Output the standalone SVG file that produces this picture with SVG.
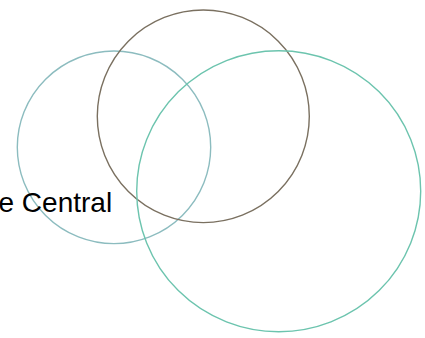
<svg xmlns="http://www.w3.org/2000/svg" width="425" height="338" viewBox="0 0 425 338">
<style>
.c{fill:none;stroke-width:1.4}
.t{font-family:"Liberation Sans",Arial,sans-serif;font-size:28px;fill:#000}
</style>
<rect width="425" height="338" fill="#fff"/>
<g id="circle-left"><ellipse class="c" cx="114" cy="147.3" rx="96.7" ry="96.3" stroke="#8cbcbf"/></g>
<g id="circle-top"><ellipse class="c" cx="203.3" cy="116.3" rx="106" ry="106.3" stroke="#7a7060"/></g>
<g id="circle-right"><ellipse class="c" cx="278.7" cy="191.2" rx="142" ry="140.5" stroke="#6cc4ae"/></g>
<g id="label"><text class="t" x="-1.5" y="212">e Central</text></g>
<g id="connectors"/>
</svg>
